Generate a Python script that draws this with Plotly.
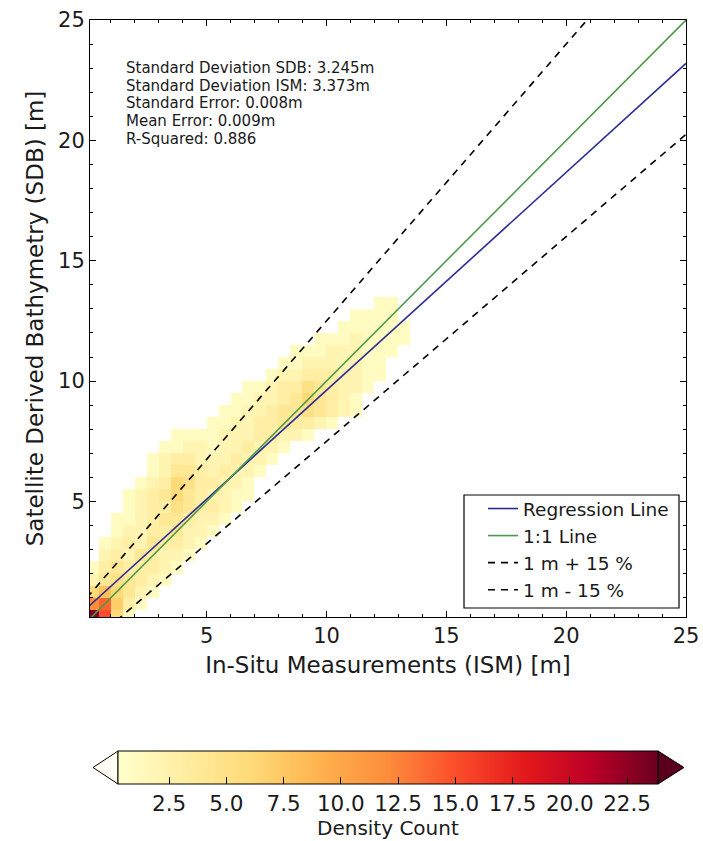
import plotly.graph_objects as go

# ---------------- data ----------------
BIN = 0.5  # 2-D histogram bin size [m]
# each row: lower y edge, lower x edge of first non-empty bin, counts of consecutive bins
row_y = [0.0, 0.5, 1.0, 1.5, 2.0, 2.5, 3.0, 3.5, 4.0, 4.5, 5.0, 5.5, 6.0, 6.5,
         7.0, 7.5, 8.0, 8.5, 9.0, 9.5, 10.0, 10.5, 11.0, 11.5, 12.0, 12.5, 13.0]
row_x0 = [0.0, 0.0, 0.0, 0.0, 0.0, 0.5, 0.5, 1.0, 1.0, 1.5, 1.5, 2.0, 2.5, 2.5,
          3.0, 3.5, 5.0, 5.5, 6.0, 6.5, 7.5, 8.0, 8.5, 9.5, 10.5, 11.0, 12.0]
row_counts = [
    [23, 15, 6, 1],
    [12, 14, 7, 3, 1],
    [6, 8, 6, 4, 2, 1],
    [2, 4, 5, 4, 3, 2, 1],
    [1, 3, 4, 3, 3, 3, 2, 1],
    [2, 3, 2, 4, 3, 2, 2, 1],
    [1, 2, 3, 2, 4, 3, 3, 2, 1],
    [1, 2, 2, 3, 3, 4, 2, 2, 1],
    [1, 1, 2, 3, 4, 4, 3, 2, 2, 1],
    [1, 2, 3, 3, 5, 4, 3, 3, 2, 1],
    [1, 2, 3, 4, 6, 4, 3, 2, 2, 1, 1],
    [1, 2, 3, 6, 5, 3, 3, 2, 2, 1],
    [1, 2, 4, 4, 3, 2, 3, 2, 2, 1],
    [1, 2, 3, 3, 2, 2, 2, 3, 2, 2, 1],
    [1, 1, 2, 2, 1, 2, 2, 3, 2, 2, 1],
    [1, 1, 1, 1, 2, 2, 2, 3, 3, 2, 2, 1],
    [1, 1, 2, 2, 3, 3, 4, 3, 3, 2, 1],
    [1, 1, 2, 2, 3, 4, 4, 5, 4, 3, 2, 1],
    [1, 1, 2, 2, 3, 4, 6, 4, 3, 2, 1],
    [1, 1, 2, 3, 3, 5, 4, 3, 2, 2, 1],
    [1, 2, 2, 3, 3, 3, 2, 2, 1, 1],
    [1, 1, 2, 2, 2, 2, 2, 1, 1],
    [1, 1, 1, 2, 2, 2, 1, 1, 1],
    [1, 1, 1, 2, 1, 1, 1, 1],
    [1, 1, 1, 1, 1, 1],
    [1, 1, 1, 1],
    [1, 1],
]

reg_slope, reg_intercept = 0.905, 0.57
band_offset, band_pct = 1.0, 0.15
line_x = [0.0, 25.0]

stats_lines = [
    "Standard Deviation SDB: 3.245m",
    "Standard Deviation ISM: 3.373m",
    "Standard Error: 0.008m",
    "Mean Error: 0.009m",
    "R-Squared: 0.886",
]
legend_names = ["Regression Line", "1:1 Line", "1 m + 15 %", "1 m - 15 %"]
cbar_min, cbar_max = 0.27, 23.85
cbar_ticks = [2.5, 5.0, 7.5, 10.0, 12.5, 15.0, 17.5, 20.0, 22.5]
cbar_ticktext = ["2.5", "5.0", "7.5", "10.0", "12.5", "15.0", "17.5", "20.0", "22.5"]
cbar_title = "Density Count"

# ---------------- build grid ----------------
nx = ny = 32
xc = [BIN * (i + 0.5) for i in range(nx)]
yc = [BIN * (j + 0.5) for j in range(ny)]
z = [[None] * nx for _ in range(ny)]
for y0, x0, cnts in zip(row_y, row_x0, row_counts):
    j = int(round(y0 / BIN))
    i0 = int(round(x0 / BIN))
    for k, c in enumerate(cnts):
        z[j][i0 + k] = c

ylorrd = [[0.0, '#ffffcc'], [0.125, '#ffeda0'], [0.25, '#fed976'], [0.375, '#feb24c'],
          [0.5, '#fd8d3c'], [0.625, '#fc4e2a'], [0.75, '#e31a1c'], [0.875, '#bd0026'],
          [1.0, '#6a0020']]

FONT = "DejaVu Sans"
TXT = "#1a1a1a"

# plot area in pixels
PL, PR, PT, PB = 90, 686, 20, 617
PW, PH = PR - PL, PB - PT


def px2paper(xp, yp):
    return (xp - PL) / PW, (PB - yp) / PH


CB_TOP, CB_BOT = 751, 784
CB_MID = (CB_TOP + CB_BOT) / 2

fig = go.Figure()
fig.add_trace(go.Heatmap(
    x=xc, y=yc, z=z, colorscale=ylorrd, zmin=cbar_min, zmax=cbar_max,
    showscale=True, hoverongaps=False, showlegend=False,
    colorbar=dict(
        orientation='h', x=px2paper(388, 0)[0], xanchor='center', lenmode='pixels', len=540,
        y=px2paper(0, CB_TOP)[1], yanchor='top', thickness=CB_BOT - CB_TOP, ypad=0, xpad=0,
        outlinecolor='black', outlinewidth=1,
        ticks='inside', ticklen=7, tickcolor='black', tickwidth=1,
        tickvals=cbar_ticks, ticktext=cbar_ticktext,
        tickfont=dict(family=FONT, size=21.5, color=TXT),
    ),
))

line_styles = [
    dict(color='#2b2b96', width=1.6),
    dict(color='#4f9a4a', width=1.6),
    dict(color='black', width=1.6, dash='7px,6px'),
    dict(color='black', width=1.6, dash='7px,6px'),
]
line_ys = [
    [reg_slope * v + reg_intercept for v in line_x],
    list(line_x),
    [band_offset + (1 + band_pct) * v for v in line_x],
    [-band_offset + (1 - band_pct) * v for v in line_x],
]
for k, (nm, st, ys) in enumerate(zip(legend_names, line_styles, line_ys)):
    fig.add_trace(go.Scatter(x=line_x, y=ys, mode='lines', line=st, name=nm,
                             legendgroup=str(k)))

# stats text
for k, s in enumerate(stats_lines):
    ax, ay = px2paper(124, 68 + k * 17.7)
    fig.add_annotation(text=s, xref='paper', yref='paper', x=ax, y=ay,
                       xanchor='left', yanchor='middle', showarrow=False,
                       font=dict(family=FONT, size=15, color=TXT))

# colorbar title
tx, ty = px2paper(388, 827.5)
fig.add_annotation(text=cbar_title, xref='paper', yref='paper', x=tx, y=ty,
                   xanchor='center', yanchor='middle', showarrow=False, borderpad=0,
                   font=dict(family=FONT, size=20, color=TXT))

# colorbar extension arrows
lt = px2paper(93, CB_MID); lb0 = px2paper(118, CB_TOP); lb1 = px2paper(118, CB_BOT)
rt = px2paper(684, CB_MID); rb0 = px2paper(658, CB_TOP); rb1 = px2paper(658, CB_BOT)
fig.add_shape(type='path', xref='paper', yref='paper',
              path=f"M{lt[0]},{lt[1]} L{lb0[0]},{lb0[1]} L{lb1[0]},{lb1[1]} Z",
              fillcolor='#fffff4', line=dict(color='black', width=1))
fig.add_shape(type='path', xref='paper', yref='paper',
              path=f"M{rt[0]},{rt[1]} L{rb0[0]},{rb0[1]} L{rb1[0]},{rb1[1]} Z",
              fillcolor='#5a001c', line=dict(color='black', width=1))

# legend frame
b0 = px2paper(464, 608); b1 = px2paper(679, 495)
fig.add_shape(type='rect', xref='paper', yref='paper', x0=b0[0], y0=b0[1], x1=b1[0], y1=b1[1],
              fillcolor='white', line=dict(color='black', width=1.2), layer='above')

axis_common = dict(
    showline=True, linecolor='black', linewidth=1, mirror='allticks',
    ticks='inside', ticklen=6, tickcolor='black', tickwidth=1,
    minor=dict(ticks='inside', ticklen=3, dtick=1, tickcolor='black', tickwidth=1),
    showgrid=False, zeroline=False, dtick=5, tick0=0, automargin=False,
    tickfont=dict(family=FONT, size=21, color=TXT),
)
fig.update_xaxes(range=[0.13, 25], title=dict(text="In-Situ Measurements (ISM) [m]",
                 font=dict(family=FONT, size=23, color=TXT), standoff=9), **axis_common)
fig.update_yaxes(range=[0.2, 25], title=dict(text="Satellite Derived Bathymetry (SDB) [m]",
                 font=dict(family=FONT, size=23, color=TXT), standoff=8), **axis_common)

lx, ly = px2paper(483, 490)
fig.update_layout(
    width=703, height=841,
    margin=dict(l=PL, r=703 - PR, t=PT, b=841 - PB, autoexpand=False),
    plot_bgcolor='white', paper_bgcolor='white',
    legend=dict(x=lx, xanchor='left', y=ly, yanchor='top',
                borderwidth=0, bgcolor='rgba(0,0,0,0)',
                font=dict(family=FONT, size=18.5, color=TXT),
                tracegroupgap=0, traceorder='grouped'),
)

fig.write_html("out.html", config={'displayModeBar': False},
               post_script="document.body.style.margin='0px';")
